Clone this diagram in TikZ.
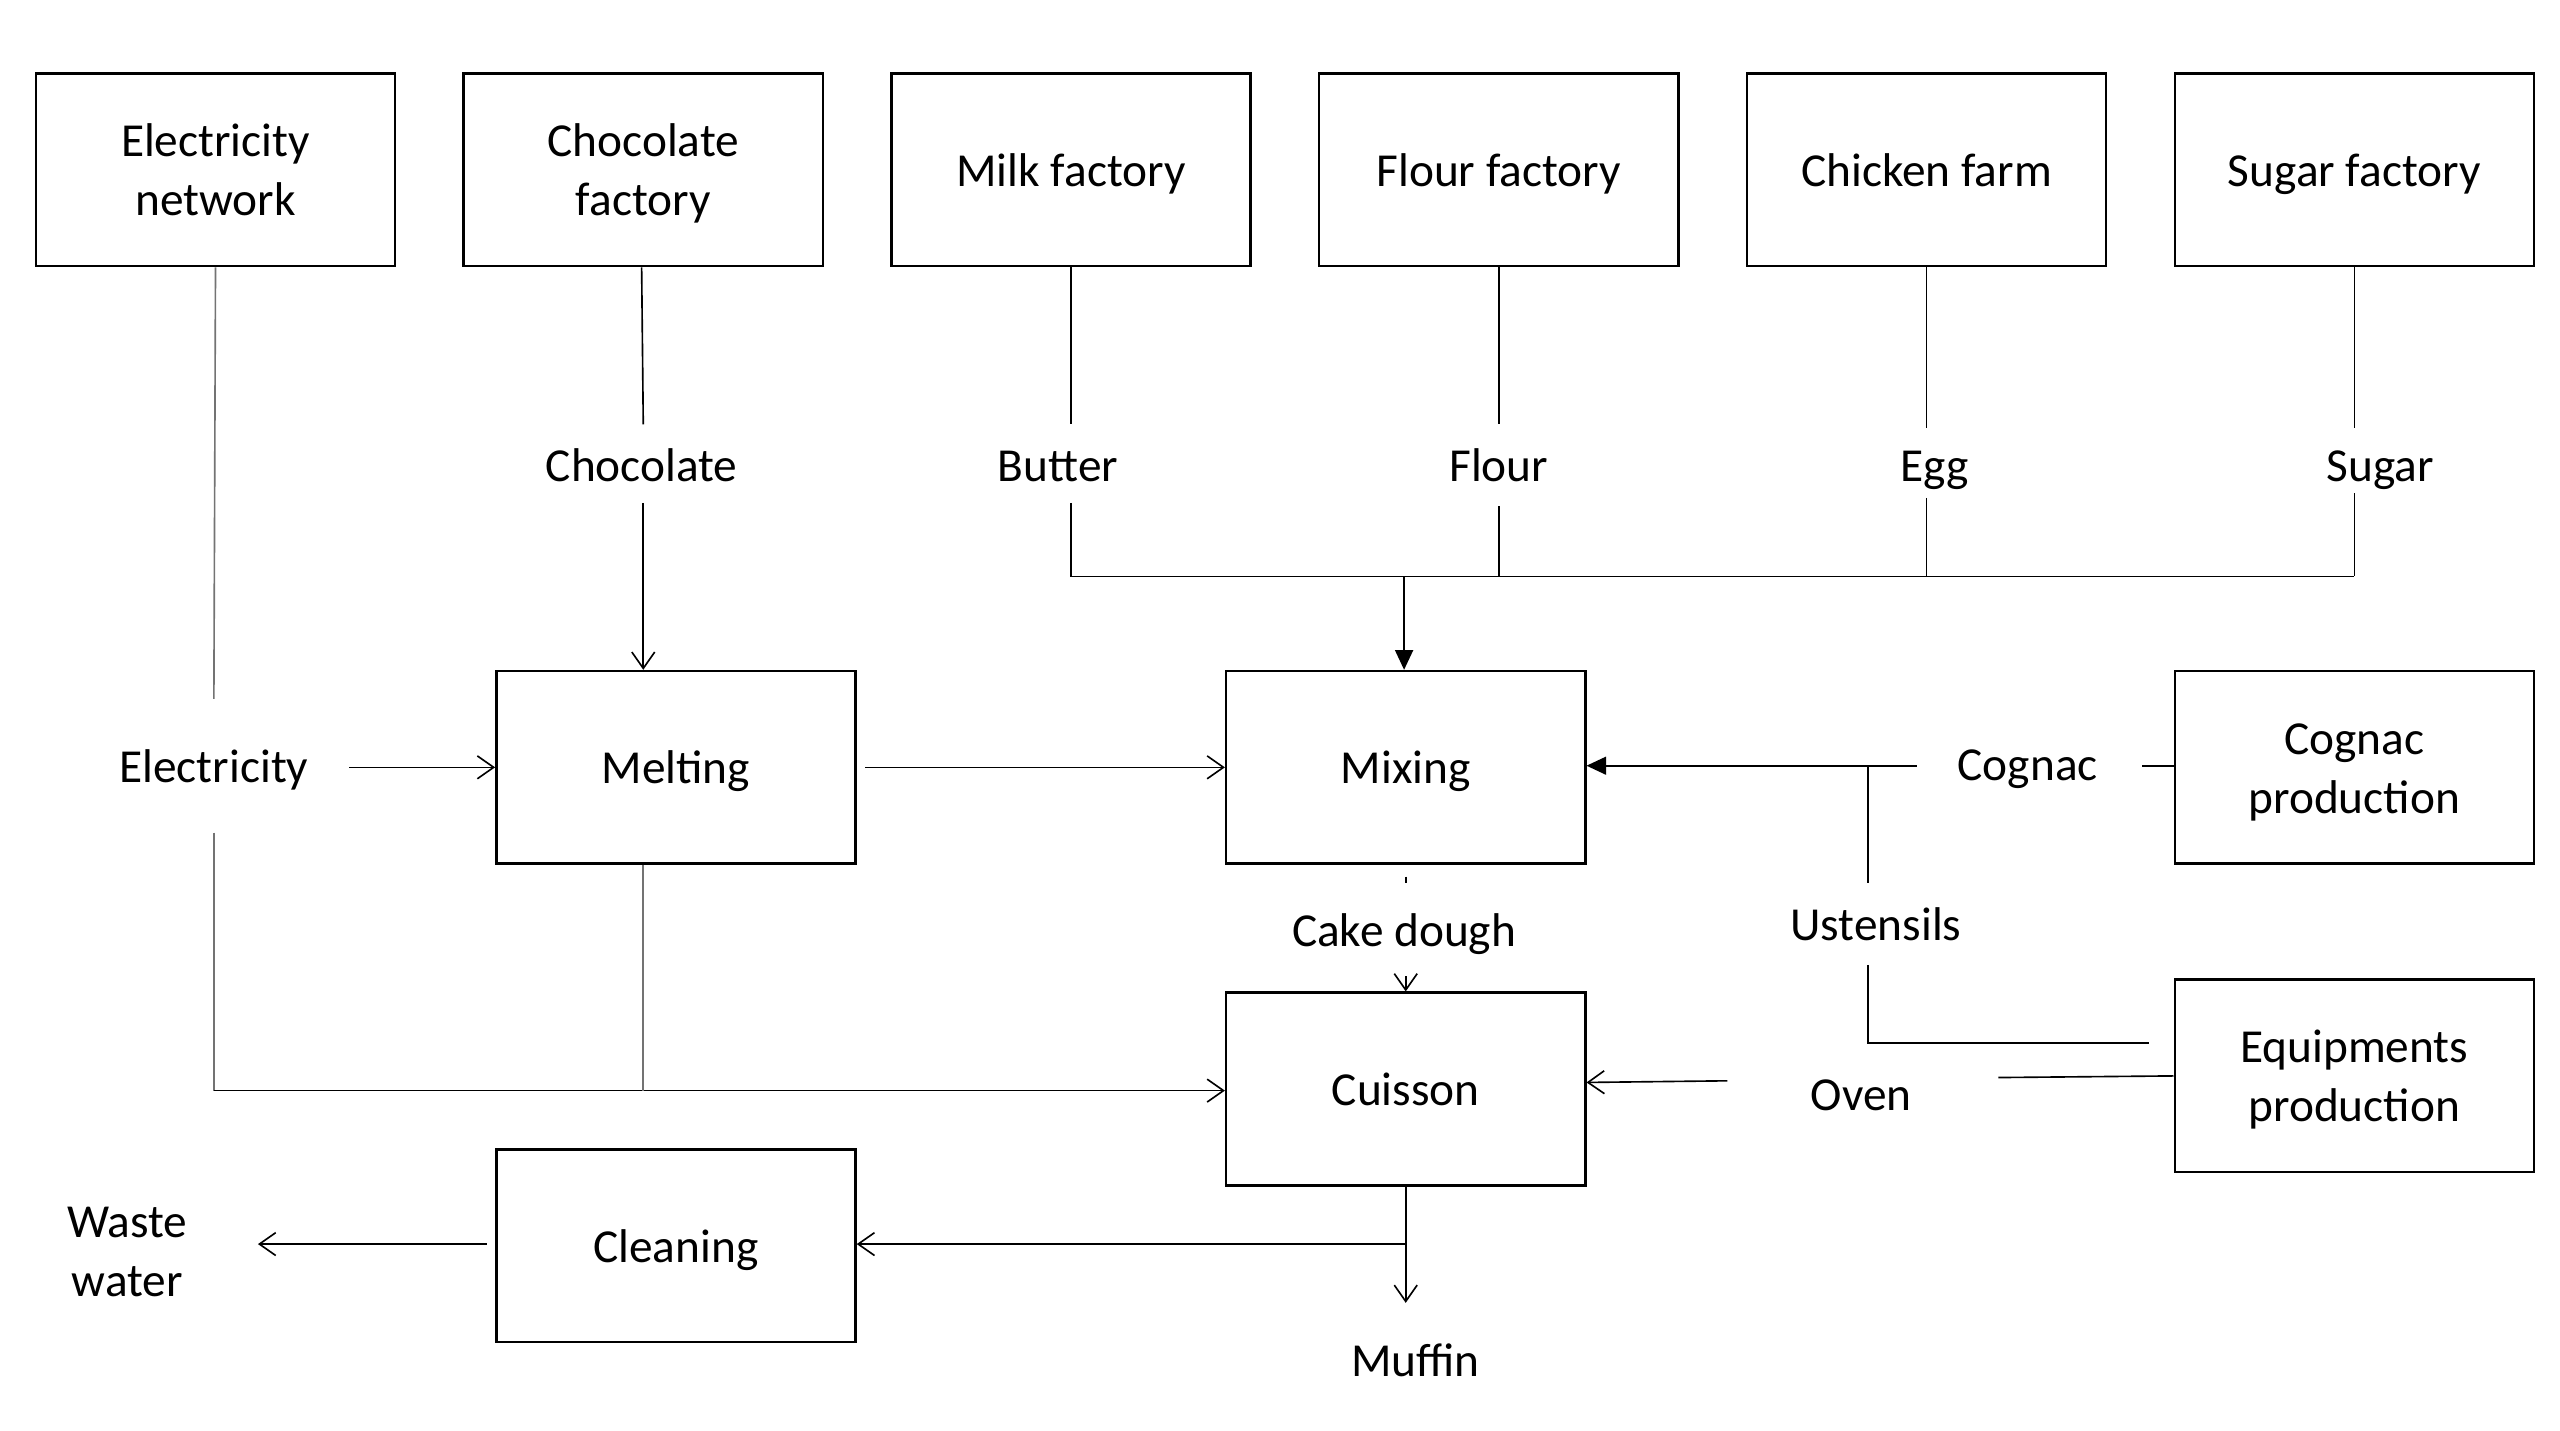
\documentclass[tikz,border=0pt]{standalone}
\usepackage{fontspec}
\setmainfont{Carlito}
\usetikzlibrary{arrows.meta}
\begin{document}
\begin{tikzpicture}[x=0.5pt,y=-0.5pt,
  txt/.style={font=\fontsize{14.5}{18}\selectfont},
  box/.style={txt, draw, line width=0.75pt, minimum width=110pt, minimum height=59pt, align=center, inner sep=0pt, text height=10pt, text depth=0pt},
  boxtwo/.style={box, text height=28pt, text depth=0pt},
  lbl/.style={txt, align=center, inner sep=0pt, text height=10pt, text depth=0pt},
  lbltwo/.style={txt, align=center, inner sep=0pt},
  conn/.style={line width=0.5pt},
  gconn/.style={line width=0.5pt, draw=black!55},
  oarr/.style={-{Straight Barb[length=5pt,width=7pt,line width=0.5pt]}},
  farr/.style={-{Triangle[length=6pt,width=5.5pt]}}
]
\path[use as bounding box, fill=white] (0,0) rectangle (1568,876);

% top boxes
\node[boxtwo] (elnet) at (132,104) {Electricity\\network};
\node[boxtwo] (chocf) at (394,104) {Chocolate\\factory};
\node[box] (milkf) at (656,104) {Milk factory};
\node[box] (flourf) at (918,104) {Flour factory};
\node[box] (chick) at (1180,104) {Chicken farm};
\node[box] (sugarf) at (1442,104) {Sugar factory};

% process boxes
\node[box] (melt) at (414,470) {Melting};
\node[box] (mix) at (861,470) {Mixing};
\node[boxtwo] (cognacp) at (1442,470) {Cognac\\production};
\node[box] (cuis) at (861,667) {Cuisson};
\node[boxtwo] (equip) at (1442,659) {Equipments\\production};
\node[box] (clean) at (414,763) {Cleaning};

% labels
\node[lbl] (choc) at (393,285) {Chocolate};
\node[lbl] (butter) at (648,285) {Butter};
\node[lbl] (flour) at (918,285) {Flour};
\node[lbl] (egg) at (1185,285) {Egg};
\node[lbl] (sugar) at (1458,285) {Sugar};
\node[lbl] (elec) at (131,469) {Electricity};
\node[lbl] (cognac) at (1242,468) {Cognac};
\node[lbl] (usten) at (1149,566) {Ustensils};
\node[lbl] (oven) at (1140,670) {Oven};
\node[lbl] (dough) at (860,570) {Cake dough};
\node[lbl] (muffin) at (867,833) {Muffin};
\node[lbltwo] (waste) at (78,767) {Waste\\water};

% coordinates
\coordinate (busL) at (656,353);
\coordinate (busR) at (1442,353);
\coordinate (busM) at (860,353);
\coordinate (elbot) at (131,668);
\coordinate (meltbot) at (394,668);
\coordinate (cogJ) at (1144,469);
\coordinate (ustJ) at (1144,639);
\coordinate (cuisJ) at (861,762);

% chocolate
\draw[conn] (chocf.south -| choc) -- (394,260);
\draw[conn, oarr] (394,308) -- (melt.north -| 394,0);

% bus
\draw[conn] (milkf.south) -- (656,260);
\draw[conn] (656,308) -- (busL) -- (busR);
\draw[conn] (flourf.south) -- (918,260);
\draw[conn] (918,310) -- (918,353);
\draw[conn] (chick.south) -- (1180,262);
\draw[conn] (1180,305) -- (1180,353);
\draw[conn] (sugarf.south) -- (1442,262);
\draw[conn] (1442,302) -- (busR);
\draw[conn, farr] (busM) -- (mix.north -| busM);

% electricity
\draw[gconn] (elnet.south) -- (131,428);
\draw[gconn] (131,510) -- (elbot);
\draw[conn] (elbot) -- (meltbot);
\draw[conn, oarr] (meltbot) -- (cuis.west |- meltbot);
\draw[gconn] (melt.south -| meltbot) -- (meltbot);
\draw[conn, oarr] (214,470) -- (melt.west |- 0,470);

% melting -> mixing
\draw[conn, oarr] (530,470) -- (mix.west);

% cognac
\draw[conn] (cognacp.west |- 0,469) -- (1312,469);
\draw[conn, farr] (1174,469) -- (mix.east |- 0,469);
\draw[conn] (cogJ) -- (1144,541);
\draw[conn] (1144,591) -- (ustJ) -- (1316,639);

% oven
\draw[conn] (equip.west) -- (1224,660);
\draw[conn, oarr] (1058,662) -- (cuis.east |- 0,663);

% cake dough
\draw[conn] (861,537) -- (861,541);
\draw[conn, oarr] (861,598) -- (cuis.north);

% cuisson out
\draw[conn, oarr] (cuis.south) -- (861,798);
\draw[conn, oarr] (cuisJ) -- (clean.east |- cuisJ);
\draw[conn, oarr] (298,762) -- (158,762);

\end{tikzpicture}
\end{document}
